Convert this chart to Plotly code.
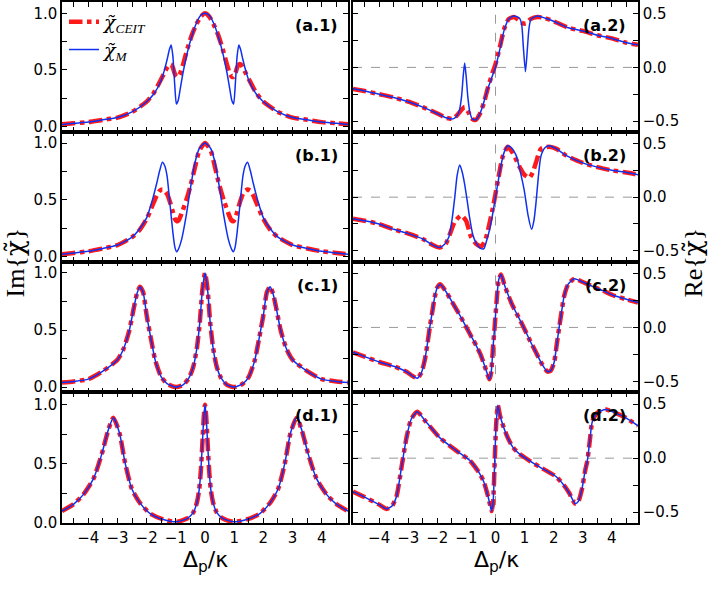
import plotly.graph_objects as go
from plotly.subplots import make_subplots

# ---- Im{chi} panels (left column) ----
xa1 = [-4.9, -4.5, -4, -3.5, -3, -2.5, -2, -1.75, -1.5, -1.4, -1.3, -1.22, -1.16, -1.1, -1.04, -0.98, -0.92, -0.85,
       -0.75, -0.6, -0.45, -0.3, -0.15, 0, 0.15, 0.3, 0.45, 0.6, 0.75, 0.85, 0.92, 0.98, 1.04, 1.1, 1.16, 1.22, 1.3,
       1.4, 1.5, 1.75, 2, 2.5, 3, 3.5, 4, 4.5, 4.9]
im_a1_m = [0.02, 0.03, 0.04, 0.06, 0.08, 0.13, 0.22, 0.29, 0.41, 0.49, 0.59, 0.68, 0.72, 0.62, 0.38, 0.20, 0.23, 0.33,
           0.48, 0.66, 0.80, 0.91, 0.98, 1.0, 0.98, 0.91, 0.80, 0.66, 0.48, 0.33, 0.23, 0.20, 0.38, 0.62, 0.72, 0.68,
           0.59, 0.49, 0.41, 0.29, 0.22, 0.13, 0.08, 0.06, 0.04, 0.03, 0.02]
im_a1_ceit = [0.02, 0.03, 0.04, 0.06, 0.08, 0.13, 0.22, 0.30, 0.42, 0.47, 0.52, 0.55, 0.55, 0.52, 0.47, 0.44, 0.44, 0.47,
              0.55, 0.69, 0.81, 0.90, 0.97, 1.0, 0.97, 0.90, 0.81, 0.69, 0.55, 0.47, 0.44, 0.44, 0.47, 0.52, 0.55, 0.55,
              0.52, 0.47, 0.42, 0.30, 0.22, 0.13, 0.08, 0.06, 0.04, 0.03, 0.02]

xb1 = [-4.9, -4.5, -4, -3.5, -3, -2.5, -2.25, -2, -1.8, -1.65, -1.55, -1.46, -1.38, -1.3, -1.2, -1.1, -1.03, -0.97,
       -0.9, -0.8, -0.65, -0.5, -0.35, -0.2, 0, 0.2, 0.35, 0.5, 0.65, 0.8, 0.9, 0.97, 1.03, 1.1, 1.2, 1.3, 1.38, 1.46,
       1.55, 1.65, 1.8, 2, 2.25, 2.5, 3, 3.5, 4, 4.5, 4.9]
im_b1_m = [0.02, 0.03, 0.045, 0.07, 0.10, 0.17, 0.24, 0.34, 0.50, 0.65, 0.76, 0.83, 0.80, 0.71, 0.46, 0.21, 0.08, 0.04,
           0.07, 0.15, 0.35, 0.60, 0.82, 0.95, 1.0, 0.95, 0.82, 0.60, 0.35, 0.15, 0.07, 0.04, 0.08, 0.21, 0.46, 0.71,
           0.80, 0.83, 0.76, 0.65, 0.50, 0.34, 0.24, 0.17, 0.10, 0.07, 0.045, 0.03, 0.02]
im_b1_ceit = [0.02, 0.03, 0.045, 0.07, 0.10, 0.17, 0.23, 0.33, 0.45, 0.54, 0.58, 0.59, 0.58, 0.55, 0.48, 0.39, 0.33,
              0.31, 0.32, 0.38, 0.49, 0.62, 0.78, 0.93, 1.0, 0.93, 0.78, 0.62, 0.49, 0.38, 0.32, 0.31, 0.33, 0.39, 0.48,
              0.55, 0.58, 0.59, 0.58, 0.54, 0.45, 0.33, 0.23, 0.17, 0.10, 0.07, 0.045, 0.03, 0.02]

xc1 = [-4.9, -4.5, -4, -3.5, -3, -2.8, -2.6, -2.45, -2.33, -2.23, -2.12, -2, -1.85, -1.7, -1.5, -1.3, -1, -0.75, -0.55,
       -0.4, -0.28, -0.18, -0.09, 0, 0.09, 0.18, 0.28, 0.4, 0.55, 0.75, 1, 1.3, 1.5, 1.7, 1.85, 2, 2.12, 2.23, 2.33,
       2.45, 2.6, 2.8, 3, 3.5, 4, 4.5, 4.9]
im_c1 = [0.04, 0.05, 0.07, 0.14, 0.24, 0.33, 0.49, 0.68, 0.82, 0.88, 0.83, 0.63, 0.42, 0.23, 0.09, 0.03, 0.0, 0.02,
         0.08, 0.18, 0.34, 0.56, 0.85, 1.0, 0.85, 0.56, 0.34, 0.18, 0.08, 0.02, 0.0, 0.03, 0.09, 0.23, 0.42, 0.63,
         0.83, 0.88, 0.82, 0.68, 0.49, 0.33, 0.24, 0.14, 0.07, 0.05, 0.04]

xd1 = [-4.9, -4.5, -4.17, -3.82, -3.54, -3.31, -3.14, -2.93, -2.74, -2.51, -2.23, -1.88, -1.43, -0.97, -0.6, -0.4,
       -0.28, -0.2, -0.14, -0.08, -0.04, 0, 0.04, 0.08, 0.14, 0.2, 0.28, 0.4, 0.6, 0.97, 1.43, 1.88, 2.23, 2.51,
       2.74, 2.93, 3.14, 3.31, 3.54, 3.82, 4.17, 4.5, 4.9]
im_d1 = [0.10, 0.16, 0.24, 0.375, 0.58, 0.79, 0.89, 0.76, 0.51, 0.29, 0.17, 0.08, 0.03, 0.01, 0.04, 0.09, 0.17, 0.28,
         0.45, 0.72, 0.90, 1.0, 0.90, 0.72, 0.45, 0.28, 0.17, 0.09, 0.04, 0.01, 0.03, 0.08, 0.17, 0.29, 0.51, 0.76,
         0.89, 0.79, 0.58, 0.375, 0.24, 0.16, 0.10]

# ---- Re{chi} panels (right column) ----
xa2_m = [-4.9, -4.5, -4, -3.5, -3, -2.5, -2, -1.7, -1.46, -1.35, -1.25, -1.17, -1.11, -1.06, -1.01, -0.95, -0.88, -0.8,
         -0.68, -0.55, -0.45, -0.3, -0.15, 0, 0.15, 0.3, 0.45, 0.63, 0.82, 0.9, 0.96, 1.03, 1.09, 1.15, 1.22, 1.45,
         1.7, 2, 2.5, 3, 3.5, 4, 4.5, 4.9]
re_a2_m = [-0.20, -0.22, -0.25, -0.28, -0.32, -0.37, -0.43, -0.47, -0.48, -0.46, -0.41, -0.28, -0.08, 0.04, -0.08,
           -0.28, -0.42, -0.48, -0.49, -0.44, -0.37, -0.23, -0.11, 0.0, 0.17, 0.35, 0.45, 0.48, 0.46, 0.40, 0.18,
           -0.04, 0.15, 0.36, 0.45, 0.48, 0.46, 0.43, 0.37, 0.34, 0.30, 0.27, 0.23, 0.21]
xa2_c = [-4.9, -4.5, -4, -3.5, -3, -2.5, -2, -1.7, -1.46, -1.3, -1.15, -1.06, -0.95, -0.8, -0.68, -0.55, -0.4, -0.25,
         -0.1, 0, 0.15, 0.3, 0.45, 0.63, 0.8, 0.95, 1.05, 1.2, 1.45, 1.7, 2, 2.5, 3, 3.5, 4, 4.5, 4.9]
re_a2_c = [-0.20, -0.22, -0.25, -0.28, -0.32, -0.37, -0.43, -0.47, -0.48, -0.44, -0.39, -0.37, -0.41, -0.48, -0.49,
           -0.44, -0.33, -0.18, -0.05, 0.03, 0.19, 0.36, 0.45, 0.47, 0.44, 0.41, 0.41, 0.45, 0.47, 0.46, 0.43, 0.37,
           0.34, 0.30, 0.27, 0.23, 0.21]

xb2_m = [-4.9, -4.5, -4, -3.5, -3, -2.5, -2.2, -1.92, -1.75, -1.6, -1.5, -1.4, -1.32, -1.23, -1.15, -1.06, -0.97, -0.89,
         -0.78, -0.66, -0.5, -0.4, -0.3, -0.21, -0.1, 0, 0.1, 0.19, 0.3, 0.42, 0.55, 0.71, 0.85, 0.99, 1.12, 1.24,
         1.32, 1.39, 1.47, 1.56, 1.7, 1.85, 2.1, 2.42, 3, 3.5, 4, 4.5, 4.9]
re_b2_m = [-0.20, -0.22, -0.25, -0.30, -0.34, -0.39, -0.44, -0.47, -0.44, -0.37, -0.22, 0.0, 0.20, 0.30, 0.24, 0.12,
           -0.04, -0.19, -0.35, -0.43, -0.48, -0.48, -0.40, -0.31, -0.16, 0.0, 0.16, 0.30, 0.42, 0.48, 0.46, 0.39,
           0.24, 0.06, -0.17, -0.30, -0.22, -0.06, 0.18, 0.38, 0.46, 0.48, 0.45, 0.39, 0.32, 0.28, 0.25, 0.23, 0.21]
xb2_c = [-4.9, -4.5, -4, -3.5, -3, -2.5, -2.2, -1.92, -1.7, -1.55, -1.4, -1.18, -1.01, -0.84, -0.65, -0.49, -0.35,
         -0.26, -0.09, 0.08, 0.25, 0.42, 0.55, 0.71, 0.85, 0.99, 1.16, 1.28, 1.39, 1.56, 1.85, 2.1, 2.42, 3, 3.5, 4,
         4.5, 4.9]
re_b2_c = [-0.20, -0.22, -0.25, -0.30, -0.34, -0.39, -0.44, -0.47, -0.43, -0.33, -0.23, -0.17, -0.22, -0.37, -0.44,
           -0.46, -0.40, -0.31, -0.10, 0.15, 0.38, 0.47, 0.43, 0.35, 0.27, 0.21, 0.18, 0.23, 0.32, 0.45, 0.47, 0.45,
           0.39, 0.32, 0.28, 0.25, 0.23, 0.21]

xc2 = [-4.9, -4.5, -4, -3.5, -3.06, -2.85, -2.69, -2.55, -2.43, -2.34, -2.26, -2.17, -2.09, -2, -1.9, -1.7, -1.46,
       -1.2, -1, -0.8, -0.66, -0.5, -0.38, -0.28, -0.21, -0.15, -0.09, -0.03, 0.04, 0.11, 0.19, 0.3, 0.45, 0.59, 0.8,
       0.97, 1.2, 1.39, 1.6, 1.79, 1.9, 2.02, 2.1, 2.19, 2.28, 2.36, 2.5, 2.71, 3, 3.33, 3.7, 4.02, 4.5, 4.9]
re_c2 = [-0.23, -0.27, -0.32, -0.36, -0.41, -0.45, -0.47, -0.42, -0.30, -0.15, 0.0, 0.15, 0.28, 0.37, 0.40, 0.33,
         0.22, 0.10, 0.0, -0.10, -0.17, -0.26, -0.35, -0.43, -0.48, -0.42, -0.20, 0.0, 0.25, 0.44, 0.49, 0.40, 0.29,
         0.20, 0.09, 0.0, -0.13, -0.23, -0.34, -0.41, -0.40, -0.32, -0.17, 0.0, 0.16, 0.29, 0.40, 0.45, 0.42, 0.38,
         0.34, 0.30, 0.26, 0.23]

xd2 = [-4.9, -4.5, -4, -3.74, -3.55, -3.4, -3.23, -3.06, -2.9, -2.69, -2.4, -1.92, -1.35, -0.89, -0.55, -0.4, -0.26,
       -0.18, -0.13, -0.08, -0.03, 0.02, 0.08, 0.15, 0.25, 0.42, 0.6, 0.82, 1.15, 1.51, 2.08, 2.35, 2.53, 2.74, 2.85,
       2.97, 3.08, 3.16, 3.25, 3.33, 3.5, 3.79, 4.2, 4.5, 4.9]
re_d2 = [-0.31, -0.36, -0.43, -0.47, -0.44, -0.35, -0.08, 0.19, 0.36, 0.43, 0.34, 0.19, 0.07, -0.02, -0.14, -0.22,
         -0.35, -0.44, -0.49, -0.40, -0.05, 0.30, 0.49, 0.40, 0.31, 0.19, 0.10, 0.04, -0.02, -0.08, -0.17, -0.25,
         -0.32, -0.42, -0.40, -0.29, -0.12, -0.02, 0.18, 0.34, 0.42, 0.45, 0.41, 0.37, 0.30]

panel_tags = ['a', 'b', 'c', 'd']

# (row, col, x_ceit, y_ceit, x_m, y_m)
panels = [
    (1, 1, xa1, im_a1_ceit, xa1, im_a1_m),
    (2, 1, xb1, im_b1_ceit, xb1, im_b1_m),
    (3, 1, xc1, im_c1, xc1, im_c1),
    (4, 1, xd1, im_d1, xd1, im_d1),
    (1, 2, xa2_c, re_a2_c, xa2_m, re_a2_m),
    (2, 2, xb2_c, re_b2_c, xb2_m, re_b2_m),
    (3, 2, xc2, re_c2, xc2, re_c2),
    (4, 2, xd2, re_d2, xd2, re_d2),
]

RED = '#ff1a1a'
BLUE = '#1030f0'
TICKFONT = dict(family='DejaVu Sans', size=15, color='black')
CHI = '<span style="font-family:DejaVu Serif">χ̃</span>'
CHI_I = '<span style="font-family:DejaVu Serif"><i>χ̃</i></span>'

fig = make_subplots(rows=4, cols=2)

for row, col, xc, yc, xm, ym in panels:
    first = (row == 1 and col == 1)
    fig.add_trace(go.Scatter(x=xc, y=yc, mode='lines', name=CHI_I + '<sub><i>CEIT</i></sub>',
                             line=dict(color=RED, width=4.5, dash='dashdot', shape='spline', smoothing=0.6),
                             showlegend=first), row=row, col=col)
    fig.add_trace(go.Scatter(x=xm, y=ym, mode='lines', name=CHI_I + '<sub><i>M</i></sub>',
                             line=dict(color=BLUE, width=1.5, shape='spline', smoothing=0.6),
                             showlegend=first), row=row, col=col)

x_dom = {1: [62 / 708, 348 / 708], 2: [353 / 708, 638 / 708]}
row_px = [(1, 133), (133, 265), (265, 398), (398, 531)]

axis_common = dict(showline=True, linecolor='black', linewidth=1.5, mirror='allticks', ticks='inside',
                   ticklen=5, tickwidth=1, tickcolor='black', showgrid=False, zeroline=False, tickfont=TICKFONT)

for r in range(1, 5):
    top, bot = row_px[r - 1]
    ydom = [1 - bot / 590, 1 - top / 590]
    for c in (1, 2):
        fig.update_xaxes(domain=x_dom[c], range=[-4.9, 4.9], dtick=1, tick0=0,
                         minor=dict(dtick=0.5, tick0=0, ticks='inside', ticklen=5, tickcolor='black'),
                         showticklabels=(r == 4), row=r, col=c, **axis_common)
        if c == 1:
            yr = [0, 1.105] if r == 4 else [-0.045, 1.1]
            fig.update_yaxes(domain=ydom, range=yr, dtick=0.5, tick0=0, tickformat='.1f',
                             minor=dict(dtick=0.25, tick0=0, ticks='inside', ticklen=5, tickcolor='black'),
                             row=r, col=c, **axis_common)
        else:
            fig.update_yaxes(domain=ydom, range=[-0.6, 0.61], dtick=0.5, tick0=0, tickformat='.1f', side='right',
                             minor=dict(dtick=0.25, tick0=0, ticks='inside', ticklen=5, tickcolor='black'),
                             row=r, col=c, **axis_common)
            fig.add_hline(y=0, line=dict(color='#999999', width=1, dash='dash'), layer='below', row=r, col=c)
            fig.add_vline(x=0, line=dict(color='#999999', width=1, dash='dash'), layer='below', row=r, col=c)

# panel labels
for i, tag in enumerate(panel_tags):
    for c in (1, 2):
        idx = i * 2 + c
        xref = 'x domain' if idx == 1 else 'x%d domain' % idx
        yref = 'y domain' if idx == 1 else 'y%d domain' % idx
        fig.add_annotation(text='<b>(%s.%d)</b>' % (tag, c), xref=xref, yref=yref,
                           x=0.972 if c == 1 else 0.965, y=0.82, xanchor='right', yanchor='middle',
                           showarrow=False, font=dict(family='DejaVu Sans', size=16, color='black'))

# axis titles
for cx in (205 / 708, 496 / 708):
    fig.add_annotation(text='Δ<sub>p</sub>/κ', xref='paper', yref='paper', x=cx, y=1 - 570 / 590,
                       xanchor='center', yanchor='middle',
                       showarrow=False, font=dict(family='DejaVu Sans', size=22, color='black'))
fig.add_annotation(text='Im{' + CHI + '}', xref='paper', yref='paper', x=15 / 708, y=1 - 266 / 590, textangle=-90,
                   xanchor='center', yanchor='middle',
                   showarrow=False, font=dict(family='Liberation Serif', size=26, color='black'))
fig.add_annotation(text='Re{' + CHI + '}', xref='paper', yref='paper', x=693 / 708, y=1 - 266 / 590, textangle=-90,
                   xanchor='center', yanchor='middle',
                   showarrow=False, font=dict(family='Liberation Serif', size=26, color='black'))

fig.update_layout(
    width=708, height=590,
    margin=dict(l=0, r=0, t=0, b=0),
    paper_bgcolor='white', plot_bgcolor='white',
    legend=dict(x=64 / 708, y=1 - 2 / 590, xanchor='left', yanchor='top', bgcolor='rgba(0,0,0,0)',
                font=dict(family='Liberation Serif', size=19, color='black'), tracegroupgap=0),
)

# page body has a default 8px margin; drop it so the figure sits at the window corner
fig.write_html("out.html", config={'displayModeBar': False},
               post_script="document.body.style.margin='0px';")
